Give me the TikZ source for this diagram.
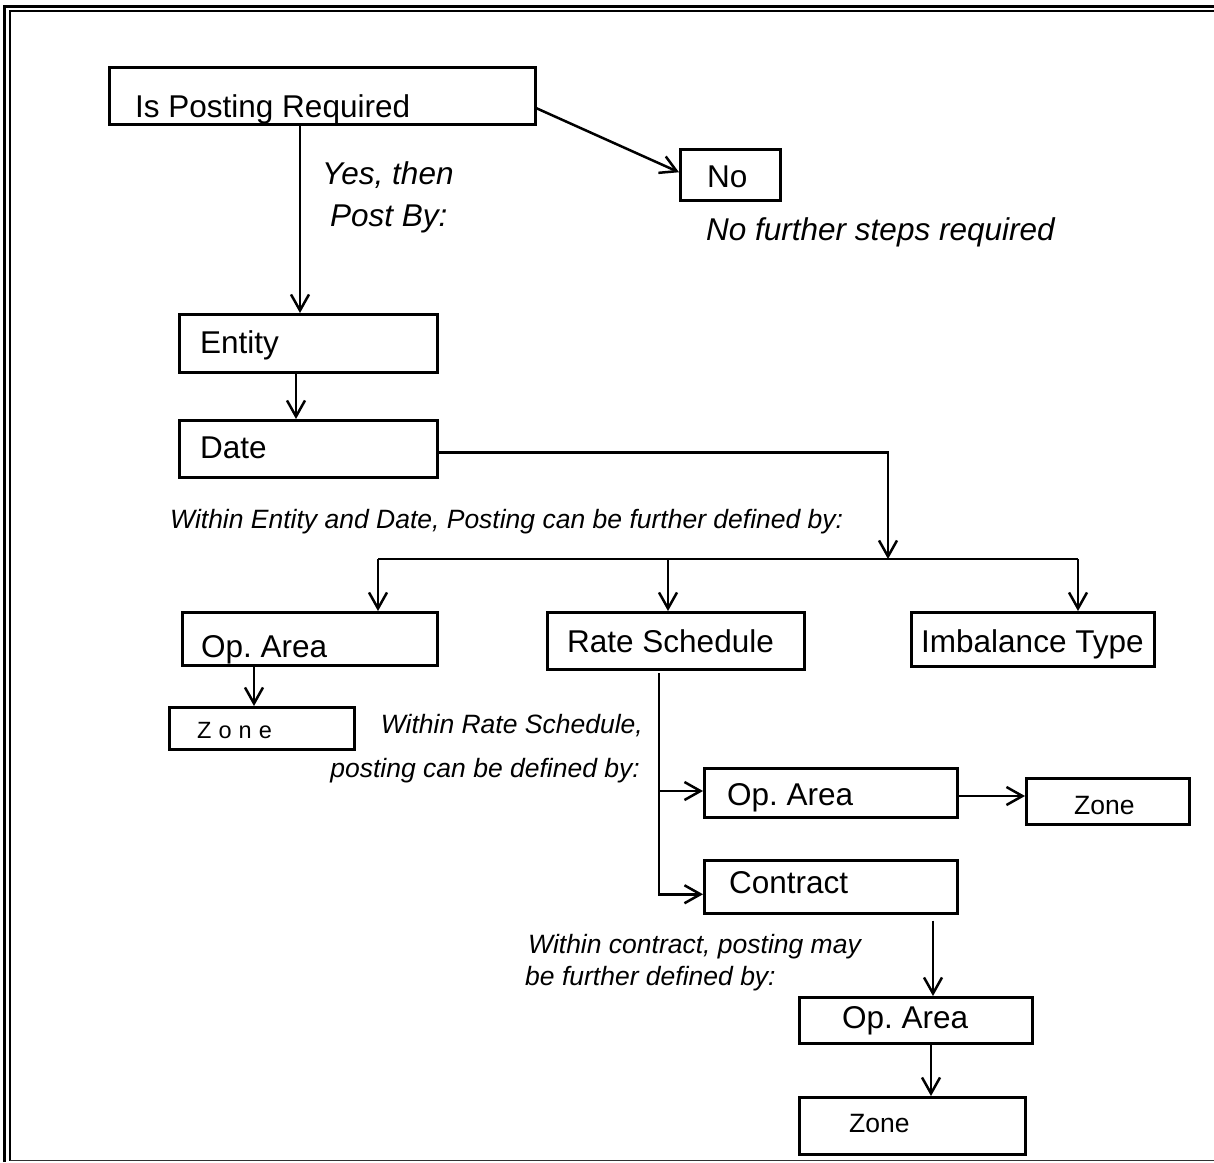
\documentclass[tikz,border=0pt]{standalone}
\usepackage{fontspec}
\setmainfont{Liberation Sans}
\newfontfamily\spacedfont[LetterSpace=30]{Liberation Sans}
\usetikzlibrary{arrows.meta}
\frenchspacing
\begin{document}
\begin{tikzpicture}[x=1pt,y=-1pt,
  box/.style={draw, line width=2.5pt, inner sep=0pt, anchor=north west},
  big/.style={inner sep=0pt, anchor=base west, font=\fontsize{31.5}{36}\selectfont},
  bignote/.style={inner sep=0pt, anchor=base west, font=\fontsize{31.5}{36}\selectfont\itshape},
  note/.style={inner sep=0pt, font=\fontsize{26.5}{30}\selectfont\itshape},
  small/.style={inner sep=0pt, anchor=base west, font=\fontsize{26.5}{30}\selectfont},
  arr/.style={line width=2.5pt, -{Straight Barb[length=16pt,width=18pt]}},
  ln/.style={line width=2.5pt}
]
\useasboundingbox (0,0) rectangle (1214,1162);
% frame
\draw[line width=2.7pt] (4.5,1162) -- (4.5,6.2) -- (1214,6.2);
\draw[line width=2pt] (10,1160.5) -- (10,11.3) -- (1214,11.3);
\draw[line width=1.5pt, black!80] (10,1160.5) -- (1214,1160.5);

% boxes
\node[box, minimum width=426pt, minimum height=57pt] (ip) at (108,66) {};
\node[box, minimum width=100pt, minimum height=51pt] (no) at (679,148) {};
\node[box, minimum width=258pt, minimum height=58pt] (ent) at (178,313) {};
\node[box, minimum width=258pt, minimum height=57pt] (date) at (178,419) {};
\node[box, minimum width=255pt, minimum height=53pt] (opa1) at (181,611) {};
\node[box, minimum width=257pt, minimum height=57pt] (rs) at (546,611) {};
\node[box, minimum width=243pt, minimum height=54pt] (imb) at (910,611) {};
\node[box, minimum width=185pt, minimum height=42pt] (zone1) at (168,706) {};
\node[box, minimum width=253pt, minimum height=49pt] (opa2) at (703,767) {};
\node[box, minimum width=163pt, minimum height=46pt] (zone2) at (1025,777) {};
\node[box, minimum width=253pt, minimum height=53pt] (con) at (703,859) {};
\node[box, minimum width=233pt, minimum height=46pt] (opa3) at (798,996) {};
\node[box, minimum width=226pt, minimum height=57pt] (zone3) at (798,1096) {};

% texts
\node[big] (tip) at (135,117) {Is Posting Required};
\node[big] (tno) at (707,187) {No};
\node[bignote] (tnf) at (706,240) {No further steps required};
\node[bignote] (tyes) at (322,184) {Yes, then};
\node[bignote] (tpost) at (330,226) {Post By:};
\node[big] (tent) at (200,353) {Entity};
\node[big] (tdate) at (200,458) {Date};
\node[note, anchor=base west] (tw1) at (170,528) {Within Entity and Date, Posting can be further defined by:};
\node[big] (topa1) at (201,657) {Op. Area};
\node[big] (trs) at (567,652) {Rate Schedule};
\node[big] (timb) at (921,652) {Imbalance Type};
\node[inner sep=0pt, anchor=base west, font=\spacedfont\fontsize{23.5}{28}\selectfont] (tz1) at (197,738) {Zone};
\node[note, anchor=base east] (tw2) at (643,733) {Within Rate Schedule,};
\node[note, anchor=base east] (tw3) at (640,777) {posting can be defined by:};
\node[big] (topa2) at (727,805) {Op. Area};
\node[small] (tz2) at (1074,814) {Zone};
\node[big] (tcon) at (729,893) {Contract};
\node[note, anchor=base west] (tw4) at (528,953) {Within contract, posting may};
\node[note, anchor=base west] (tw5) at (525,985) {be further defined by:};
\node[big] (topa3) at (842,1028) {Op. Area};
\node[small] (tz3) at (849,1132) {Zone};

% connectors
\coordinate (cx1) at (300,0);
\draw[arr] (ip.south -| cx1) -- (ent.north -| cx1);
\draw[arr] ([yshift=-12.5pt]ip.east) -- ([yshift=2.5pt]no.west);
\coordinate (cx2) at (296,0);
\draw[arr] (ent.south -| cx2) -- (date.north -| cx2);
\coordinate (barT) at (888,559);
\draw[arr] ([yshift=-3.5pt]date.east) -| (barT);
\coordinate (barL) at (378,559);
\coordinate (barR) at (1078,559);
\draw[ln] (barL) -- (barR);
\draw[arr] (barL) -- (opa1.north -| barL);
\coordinate (cx3) at (668,559);
\draw[arr] (cx3) -- (rs.north -| cx3);
\draw[arr] (barR) -- (imb.north -| barR);
\coordinate (cx4) at (254,0);
\draw[arr] (opa1.south -| cx4) -- (zone1.north -| cx4);
\coordinate (rsl) at (659,673);
\draw[arr] (rsl) |- ([yshift=-7.5pt]con.west);
\coordinate (br1) at (659,791);
\draw[arr] (br1) -- (br1 -| opa2.west);
\coordinate (yz) at (0,796);
\draw[arr] (opa2.east |- yz) -- (zone2.west |- yz);
\coordinate (cx5) at (933,0);
\draw[arr] ([yshift=-6pt]con.south -| cx5) -- (opa3.north -| cx5);
\coordinate (cx6) at (931,0);
\draw[arr] (opa3.south -| cx6) -- (zone3.north -| cx6);
\end{tikzpicture}
\end{document}
